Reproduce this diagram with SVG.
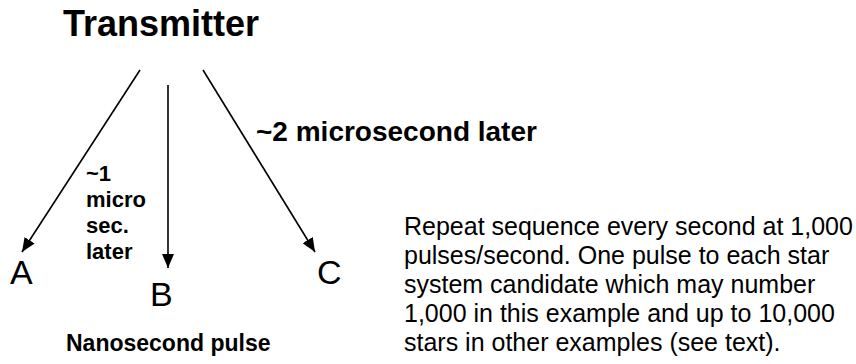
<svg xmlns="http://www.w3.org/2000/svg" width="856" height="364" viewBox="0 0 856 364">
<defs>
<marker id="ah" viewBox="0 0 14 12" refX="14" refY="6" markerWidth="14" markerHeight="12" markerUnits="userSpaceOnUse" orient="auto"><path d="M0,0 L14,6 L0,12 z" fill="#000"/></marker>
<style>
.b{font-family:"Liberation Sans",Arial,sans-serif;font-weight:bold;fill:#000}
.r{font-family:"Liberation Sans",Arial,sans-serif;fill:#000}
.ln{stroke:#000;stroke-width:1.6;fill:none;marker-end:url(#ah)}
</style>
</defs>
<rect width="856" height="364" fill="#fff"/>
<g id="transmitter"><text class="b" x="63" y="36" font-size="36">Transmitter</text></g>
<g id="connectors">
<line class="ln" x1="140" y1="70" x2="22" y2="252"/>
<line class="ln" x1="168" y1="85" x2="168" y2="268"/>
<line class="ln" x1="203" y1="70" x2="315" y2="252"/>
</g>
<g id="label-1"><text class="b" font-size="22"><tspan x="86" y="181">~1</tspan><tspan x="86" y="207">micro</tspan><tspan x="86" y="233">sec.</tspan><tspan x="86" y="259">later</tspan></text></g>
<g id="label-2"><text class="b" x="256" y="141" font-size="28">~2 microsecond later</text></g>
<g id="node-A"><text class="r" x="10" y="284" font-size="34">A</text></g>
<g id="node-B"><text class="r" x="150" y="306" font-size="34">B</text></g>
<g id="node-C"><text class="r" x="317" y="284" font-size="34">C</text></g>
<g id="caption"><text class="b" x="66" y="351" font-size="23">Nanosecond pulse</text></g>
<g id="note"><text class="r" font-size="25"><tspan x="404" y="235">Repeat sequence every second at 1,000</tspan><tspan x="404" y="264">pulses/second. One pulse to each star</tspan><tspan x="404" y="293">system candidate which may number</tspan><tspan x="404" y="322">1,000 in this example and up to 10,000</tspan><tspan x="404" y="351">stars in other examples (see text).</tspan></text></g>
</svg>
